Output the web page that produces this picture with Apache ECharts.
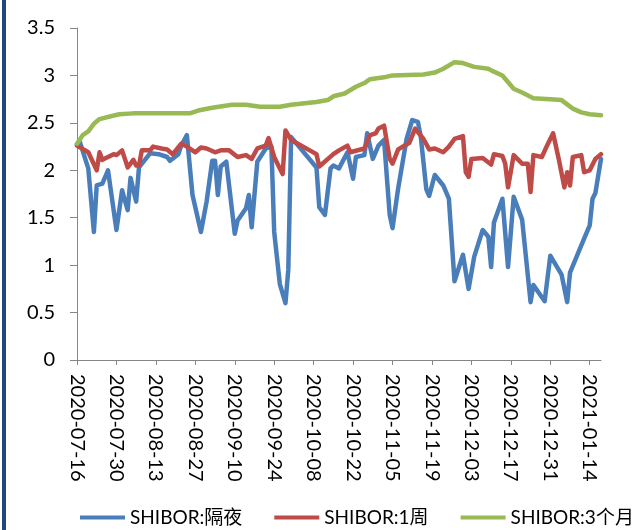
<!DOCTYPE html>
<html>
<head>
<meta charset="utf-8">
<title>SHIBOR</title>
<script src="https://cdn.jsdelivr.net/npm/echarts@6/dist/echarts.min.js"></script>
<style>
  html, body { margin: 0; padding: 0; background: #fff; }
  #wrap { position: relative; width: 642px; height: 530px; }
  #chart { width: 642px; height: 530px; }
  #edge { position: absolute; left: 2px; top: 0; width: 4px; height: 530px; background: #1F497D; }
</style>
</head>
<body>
<div id="wrap">
  <div id="chart"></div>
  <div id="edge"></div>
</div>
<script>
// x 轴：2020-07-16 ~ 2021-01-18 日历日
var startDay = '2020-07-16';
var endDay = '2021-01-18';
var yTicks = [0, 0.5, 1, 1.5, 2, 2.5, 3, 3.5];

// SHIBOR:隔夜
var overnightDates = [
  '2020-07-16','2020-07-17','2020-07-20','2020-07-22','2020-07-23','2020-07-25','2020-07-27','2020-07-30',
  '2020-08-01','2020-08-02','2020-08-03','2020-08-04','2020-08-06','2020-08-07','2020-08-11','2020-08-14',
  '2020-08-17','2020-08-18','2020-08-21','2020-08-22','2020-08-24','2020-08-26','2020-08-29','2020-08-31',
  '2020-09-02','2020-09-03','2020-09-04','2020-09-05','2020-09-07','2020-09-10','2020-09-11','2020-09-14',
  '2020-09-15','2020-09-16','2020-09-18','2020-09-21','2020-09-23','2020-09-24','2020-09-26','2020-09-28',
  '2020-09-29','2020-09-30','2020-10-09','2020-10-10','2020-10-12','2020-10-14','2020-10-15','2020-10-17',
  '2020-10-20','2020-10-22','2020-10-23','2020-10-26','2020-10-27','2020-10-29','2020-10-31','2020-11-02',
  '2020-11-04','2020-11-05','2020-11-07','2020-11-10','2020-11-12','2020-11-14','2020-11-15','2020-11-17',
  '2020-11-18','2020-11-20','2020-11-23','2020-11-25','2020-11-27','2020-11-30','2020-12-02','2020-12-04',
  '2020-12-07','2020-12-09','2020-12-10','2020-12-11','2020-12-14','2020-12-16','2020-12-18','2020-12-21',
  '2020-12-24','2020-12-25','2020-12-29','2020-12-31','2021-01-04','2021-01-06','2021-01-07','2021-01-12',
  '2021-01-14','2021-01-15','2021-01-16','2021-01-18'
];
var overnightRates = [
  2.27, 2.30, 2.02, 1.35, 1.84, 1.86, 2.00, 1.37,
  1.79, 1.68, 1.58, 1.92, 1.67, 2.03, 2.18, 2.17,
  2.14, 2.10, 2.17, 2.26, 2.37, 1.74, 1.35, 1.67,
  2.10, 2.10, 1.74, 2.04, 2.09, 1.33, 1.47, 1.60,
  1.74, 1.40, 2.09, 2.23, 2.25, 1.35, 0.80, 0.60,
  0.95, 2.35, 2.03, 1.61, 1.53, 2.02, 2.05, 2.02,
  2.19, 1.91, 2.14, 2.16, 2.39, 2.12, 2.26, 2.32,
  1.53, 1.39, 1.81, 2.33, 2.53, 2.51, 2.36, 1.80,
  1.73, 1.95, 1.84, 1.70, 0.83, 1.11, 0.75, 1.09,
  1.37, 1.30, 0.98, 1.45, 1.70, 0.98, 1.72, 1.48,
  0.61, 0.79, 0.62, 1.10, 0.90, 0.61, 0.92, 1.28,
  1.42, 1.70, 1.76, 2.12
];

// SHIBOR:1周
var weekDates = [
  '2020-07-16','2020-07-20','2020-07-23','2020-07-24','2020-07-25','2020-07-27','2020-07-29','2020-07-30',
  '2020-08-01','2020-08-02','2020-08-03','2020-08-05','2020-08-06','2020-08-07','2020-08-08','2020-08-11',
  '2020-08-12','2020-08-15','2020-08-17','2020-08-19','2020-08-22','2020-08-24','2020-08-27','2020-08-29',
  '2020-08-31','2020-09-03','2020-09-05','2020-09-08','2020-09-11','2020-09-14','2020-09-16','2020-09-18',
  '2020-09-21','2020-09-22','2020-09-24','2020-09-26','2020-09-27','2020-09-28','2020-09-30','2020-10-09',
  '2020-10-10','2020-10-15','2020-10-17','2020-10-20','2020-10-21','2020-10-26','2020-10-28','2020-10-30',
  '2020-10-31','2020-11-02','2020-11-04','2020-11-05','2020-11-07','2020-11-11','2020-11-13','2020-11-16',
  '2020-11-18','2020-11-20','2020-11-23','2020-11-25','2020-11-27','2020-11-30','2020-12-01','2020-12-02',
  '2020-12-03','2020-12-07','2020-12-10','2020-12-11','2020-12-14','2020-12-15','2020-12-16','2020-12-18',
  '2020-12-21','2020-12-23','2020-12-24','2020-12-25','2020-12-28','2020-12-30','2021-01-01','2021-01-03',
  '2021-01-05','2021-01-06','2021-01-07','2021-01-08','2021-01-11','2021-01-12','2021-01-14','2021-01-16',
  '2021-01-18'
];
var weekRates = [
  2.26, 2.19, 2.00, 2.19, 2.11, 2.14, 2.17, 2.16,
  2.21, 2.12, 2.03, 2.11, 2.05, 2.05, 2.21, 2.21,
  2.25, 2.23, 2.22, 2.17, 2.28, 2.25, 2.19, 2.24,
  2.23, 2.19, 2.21, 2.21, 2.14, 2.16, 2.12, 2.23,
  2.26, 2.34, 2.14, 2.02, 1.96, 2.42, 2.32, 2.17,
  2.04, 2.17, 2.21, 2.26, 2.19, 2.23, 2.37, 2.39,
  2.44, 2.47, 2.12, 2.07, 2.22, 2.29, 2.44, 2.33,
  2.22, 2.23, 2.19, 2.25, 2.33, 2.36, 1.98, 1.93,
  2.12, 2.13, 2.06, 2.17, 2.15, 2.07, 1.82, 2.16,
  2.07, 2.07, 1.77, 2.16, 2.14, 2.27, 2.39, 2.12,
  1.82, 1.98, 1.84, 2.14, 2.16, 1.98, 2.00, 2.12,
  2.17
];

// SHIBOR:3个月
var month3Dates = [
  '2020-07-16','2020-07-18','2020-07-20','2020-07-22','2020-07-24','2020-07-28','2020-07-31','2020-08-05',
  '2020-08-25','2020-08-28','2020-09-02','2020-09-09','2020-09-14','2020-09-19','2020-09-26','2020-09-30',
  '2020-10-09','2020-10-13','2020-10-15','2020-10-19','2020-10-23','2020-10-26','2020-10-28','2020-11-02',
  '2020-11-05','2020-11-16','2020-11-20','2020-11-23','2020-11-27','2020-11-30','2020-12-04','2020-12-09',
  '2020-12-11','2020-12-14','2020-12-18','2020-12-21','2020-12-25','2020-12-31','2021-01-04','2021-01-08',
  '2021-01-11','2021-01-14','2021-01-18'
];
var month3Rates = [
  2.28, 2.37, 2.41, 2.49, 2.54, 2.57, 2.59, 2.60,
  2.60, 2.63, 2.66, 2.69, 2.69, 2.67, 2.67, 2.69,
  2.72, 2.74, 2.78, 2.81, 2.88, 2.92, 2.96, 2.98,
  3.00, 3.01, 3.03, 3.07, 3.14, 3.13, 3.09, 3.07,
  3.04, 3.00, 2.86, 2.82, 2.76, 2.75, 2.74, 2.65,
  2.61, 2.59, 2.58
];

var seriesNames = ['SHIBOR:隔夜', 'SHIBOR:1周', 'SHIBOR:3个月'];
var seriesColors = ['#4A7EBB', '#BE4B48', '#98B954'];

function pad(n){ return n < 10 ? '0' + n : '' + n; }
function buildDays(a, b){
  var out = [];
  var t = Date.parse(a + 'T00:00:00Z'), e = Date.parse(b + 'T00:00:00Z');
  for(; t <= e; t += 86400000){
    var d = new Date(t);
    out.push(d.getUTCFullYear() + '-' + pad(d.getUTCMonth() + 1) + '-' + pad(d.getUTCDate()));
  }
  return out;
}
function pairs(dates, vals){
  return dates.map(function(d, i){ return [d, vals[i]]; });
}

var days = buildDays(startDay, endDay);
var font = 'Lato, "Noto Sans CJK SC", sans-serif';

function lineSeries(idx, data){
  return {
    name: seriesNames[idx],
    type: 'line',
    data: data,
    symbol: 'none',
    smooth: false,
    lineStyle: { width: 4.5, color: seriesColors[idx], cap: 'round', join: 'round' },
    itemStyle: { color: seriesColors[idx] }
  };
}

var option = {
  animation: false,
  backgroundColor: '#fff',
  grid: { left: 77, right: 41, top: 28, bottom: 170 },
  legend: {
    left: 75,
    top: 503,
    icon: 'rect',
    itemWidth: 45,
    itemHeight: 4,
    itemGap: 32,
    textStyle: { fontFamily: font, fontSize: 19, color: '#000' },
    data: seriesNames
  },
  xAxis: {
    type: 'category',
    data: days,
    boundaryGap: false,
    axisLine: { lineStyle: { color: '#868686', width: 1 } },
    axisTick: { show: true, interval: 13, length: 5, lineStyle: { color: '#868686' } },
    axisLabel: {
      interval: 13,
      rotate: -90,
      margin: 14,
      fontFamily: font,
      fontSize: 20,
      color: '#000'
    },
    splitLine: { show: false }
  },
  yAxis: {
    type: 'value',
    min: yTicks[0],
    max: yTicks[yTicks.length - 1],
    interval: 0.5,
    axisLine: { show: true, lineStyle: { color: '#868686', width: 1 } },
    axisTick: { show: true, length: 7, lineStyle: { color: '#868686' } },
    axisLabel: { margin: 22, fontFamily: font, fontSize: 20, color: '#000' },
    splitLine: { show: false }
  },
  series: [
    lineSeries(0, pairs(overnightDates, overnightRates)),
    lineSeries(1, pairs(weekDates, weekRates)),
    lineSeries(2, pairs(month3Dates, month3Rates))
  ]
};

var myChart = echarts.init(document.getElementById('chart'), null, { renderer: 'canvas' });
myChart.setOption(option);
</script>
</body>
</html>
